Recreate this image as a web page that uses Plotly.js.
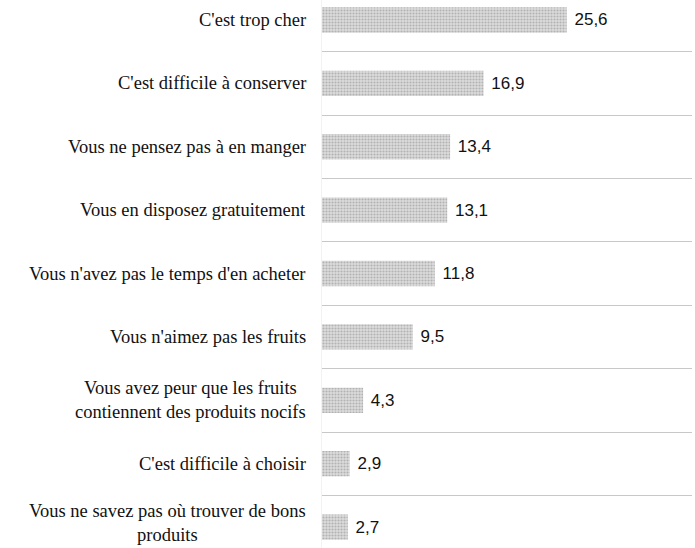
<!DOCTYPE html>
<html>
<head>
<meta charset="utf-8">
<script src="https://cdn.plot.ly/plotly-3.0.1.min.js"></script>
<style>html,body{margin:0;padding:0;background:#fff;}#chart{width:695px;height:548px;}</style>
</head>
<body>
<div id="chart"></div>
<script>
const categories = [
  "C'est trop cher",
  "C'est difficile à conserver",
  "Vous ne pensez pas à en manger",
  "Vous en disposez gratuitement",
  "Vous n'avez pas le temps d'en acheter",
  "Vous n'aimez pas les fruits",
  "Vous avez peur que les fruits<br>contiennent des produits nocifs",
  "C'est difficile à choisir",
  "Vous ne savez pas où trouver de bons<br>produits"
];
const values = [25.6, 16.9, 13.4, 13.1, 11.8, 9.5, 4.3, 2.9, 2.7];

const idx = categories.map((c, i) => i);

const trace = {
  type: 'bar',
  orientation: 'h',
  y: idx,
  x: values,
  width: 0.4,
  marker: {
    color: '#d0d0d0',
    line: {width: 0},
    pattern: {shape: '.', fgcolor: '#b2b2b2', bgcolor: '#dcdcdc', size: 3, solidity: 0.4}
  },
  texttemplate: '\u00a0%{x:.1f}',
  textposition: 'outside',
  constraintext: 'none',
  cliponaxis: false,
  textfont: {family: 'Liberation Sans, Arial, sans-serif', size: 17, color: '#111'},
  hoverinfo: 'skip'
};

const annotations = categories.map((c, i) => ({
  xref: 'paper', yref: 'y',
  x: 0, y: i,
  xshift: -14,
  yshift: (i === categories.length - 1) ? 4 : 0,
  xanchor: 'right', yanchor: 'middle',
  align: 'center',
  text: c,
  showarrow: false,
  font: {family: 'Liberation Serif, Times New Roman, serif', size: 18.5, color: '#111'}
}));

const layout = {
  width: 695, height: 548,
  margin: {l: 322, r: 3, t: 0, b: 0},
  paper_bgcolor: '#fff', plot_bgcolor: '#fff',
  separators: ', ',
  showlegend: false,
  xaxis: {range: [0, 38.7], showgrid: false, zeroline: false, showticklabels: false, ticks: '', showline: false},
  yaxis: {
    type: 'linear',
    range: [8.33, -0.315],
    tickmode: 'array',
    tickvals: idx.slice(0, -1).map(i => i + 0.5),
    showticklabels: false,
    ticks: '',
    showgrid: true, gridcolor: '#c8c8c8', gridwidth: 1,
    zeroline: false, showline: true, linecolor: '#f2f2f2', linewidth: 1
  },
  annotations: annotations
};

Plotly.newPlot('chart', [trace], layout, {displayModeBar: false, staticPlot: true});
</script>
</body>
</html>
